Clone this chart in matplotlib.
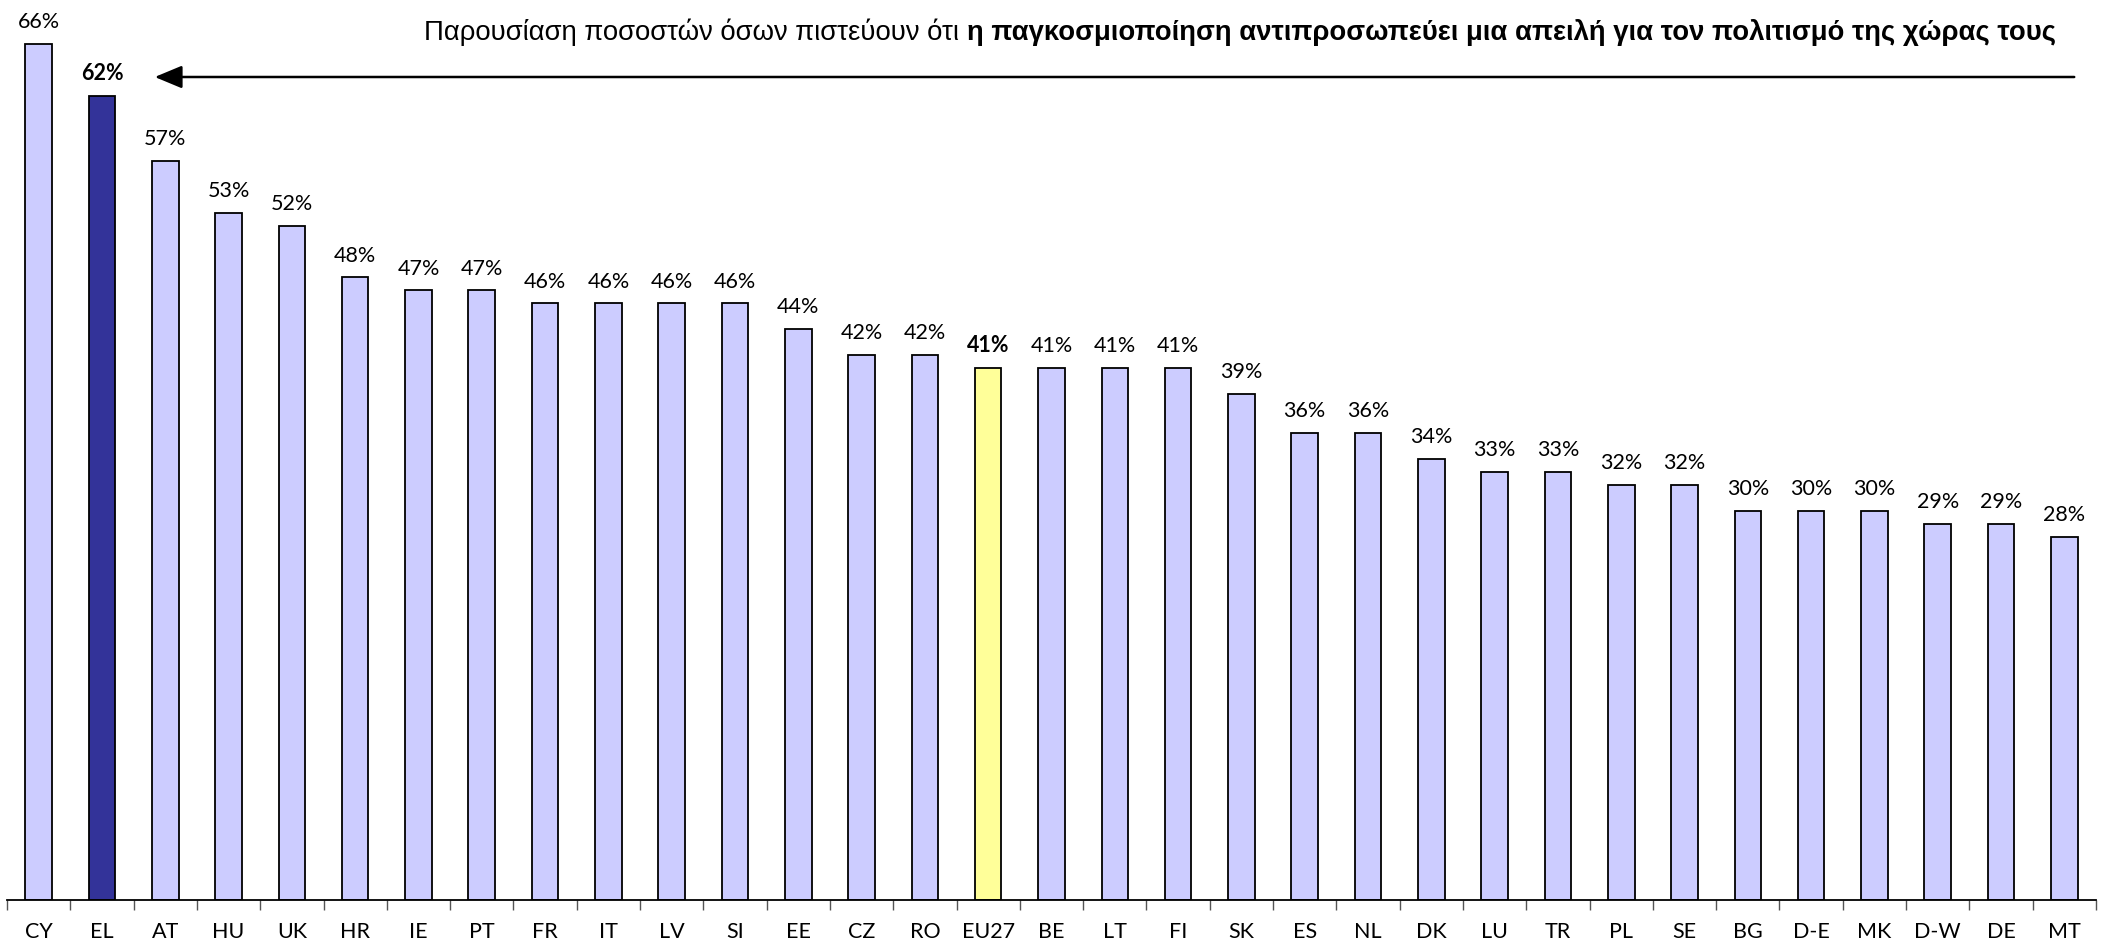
import matplotlib
matplotlib.use("Agg")
import matplotlib.pyplot as plt
import numpy as np

categories = ["CY", "EL", "AT", "HU", "UK", "HR", "IE", "PT", "FR", "IT", "LV", "SI", "EE", "CZ", "RO",
              "EU27", "BE", "LT", "FI", "SK", "ES", "NL", "DK", "LU", "TR", "PL", "SE", "BG", "D-E", "MK",
              "D-W", "DE", "MT"]
values = [66, 62, 57, 53, 52, 48, 47, 47, 46, 46, 46, 46, 44, 42, 42,
          41, 41, 41, 41, 39, 36, 36, 34, 33, 33, 32, 32, 30, 30, 30,
          29, 29, 28]
title_normal = "Παρουσίαση ποσοστών όσων πιστεύουν ότι "
title_bold = "η παγκοσμιοποίηση αντιπροσωπεύει μια απειλή για τον πολιτισμό της χώρας τους"

W, H = 2111, 950
fig = plt.figure(figsize=(W / 100, H / 100), dpi=100)
ax = fig.add_axes([7 / W, 50 / H, 2089 / W, 882 / H])

colors = []
for c in categories:
    if c == "EL":
        colors.append("#333399")
    elif c == "EU27":
        colors.append("#FFFF99")
    else:
        colors.append("#CCCCFF")

x = np.arange(len(categories))
bars = ax.bar(x, values, width=0.42, color=colors, edgecolor="black", linewidth=1.3)
ax.set_xlim(-0.5, len(categories) - 0.5)
ax.set_ylim(0, 68)

font = "Lato"
for xi, v, c in zip(x, values, categories):
    bold = c in ("EL", "EU27")
    ax.annotate(f"{v}%", (xi, v), xytext=(0, 8.5), textcoords="offset points",
                ha="center", va="bottom", fontsize=15.5, family=font,
                fontweight="bold" if bold else "normal", clip_on=False, annotation_clip=False)

for s in ["top", "right", "left"]:
    ax.spines[s].set_visible(False)
ax.spines["bottom"].set_linewidth(1.3)
ax.set_yticks([])
ax.set_xticks(np.arange(-0.5, len(categories), 1.0))
ax.set_xticklabels([])
ax.tick_params(axis="x", which="major", length=7, width=1.0, color="#555555")
ax.set_xticks(x, minor=True)
ax.set_xticklabels(categories, minor=True, fontsize=15.5, family=font)
ax.tick_params(axis="x", which="minor", length=0, pad=16)

# title (mixed normal / bold), right aligned
right_px = 2056
ty = 1 - 32 / H
tb = fig.text(right_px / W, ty, title_bold, ha="right", va="center", fontsize=19.8,
              fontweight="bold", family="Liberation Sans")
renderer = fig.canvas.get_renderer()
bb = tb.get_window_extent(renderer)
fig.text(bb.x0 / W, ty, title_normal, ha="right", va="center", fontsize=19.8,
         family="Liberation Sans")

# arrow
ay = 1 - 77 / H
fig.add_artist(matplotlib.patches.FancyArrowPatch((2077 / W, ay), (152 / W, ay),
                                                  transform=fig.transFigure, arrowstyle="-|>,head_length=12,head_width=5",
                                                  mutation_scale=1.4, lw=1.8, color="black"))

fig.savefig("out.png", dpi=100)
